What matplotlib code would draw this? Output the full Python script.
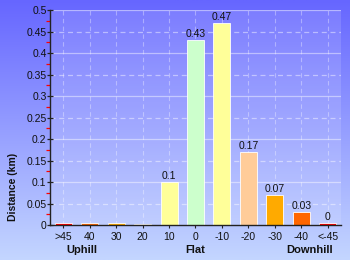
import matplotlib
matplotlib.use("Agg")
import matplotlib.pyplot as plt
import numpy as np
from matplotlib.colors import LinearSegmentedColormap

categories = [">45", "40", "30", "20", "10", "0", "-10", "-20", "-30", "-40", "<-45"]
values = [0.005, 0.005, 0.005, 0.003, 0.10, 0.43, 0.47, 0.17, 0.07, 0.03, 0.005]
value_labels = ["", "", "", "", "0.1", "0.43", "0.47", "0.17", "0.07", "0.03", "0"]
bar_colors = ["#ff0000", "#ff6600", "#ffaa00", "#ffcc99", "#ffff99", "#ccffcc",
              "#ffff99", "#ffcc99", "#ffaa00", "#ff6600", "#ff0000"]
y_ticks = [0, 0.05, 0.1, 0.15, 0.2, 0.25, 0.3, 0.35, 0.4, 0.45, 0.5]
y_tick_labels = ["0", "0.05", "0.1", "0.15", "0.2", "0.25", "0.3", "0.35", "0.4", "0.45", "0.5"]
groups = ["Uphill", "Flat", "Downhill"]
group_pos = [0.7, 5.0, 9.3]

plt.rcParams['font.family'] = ['Liberation Sans', 'DejaVu Sans']

fig = plt.figure(figsize=(3.5, 2.6), dpi=100)

# background gradient
bg = fig.add_axes([0, 0, 1, 1], zorder=-10)
cmap = LinearSegmentedColormap.from_list("bg", ["#6666ff", "#c4d6ff"])
grad = np.linspace(0, 1, 256).reshape(-1, 1)
bg.imshow(grad, aspect="auto", cmap=cmap, extent=[0, 1, 0, 1], origin="upper")
bg.set_axis_off()

W, H = 350, 260
left, right, top, bottom = 50, 341, 10, 225
ax = fig.add_axes([left / W, 1 - bottom / H, (right - left) / W, (bottom - top) / H])
ax.set_facecolor((1, 1, 1, 0.13))

x = np.arange(len(categories))
ax.set_xlim(-0.5, len(categories) - 0.5)
ax.set_ylim(0, 0.5)

# grid
for yv in y_ticks[1:]:
    major = abs(round(yv * 10) - yv * 10) < 1e-6
    ax.axhline(yv, color="white", alpha=0.45, lw=0.9,
               ls="-" if major else (0, (4, 3)), zorder=0.5)
for xv in x:
    ax.axvline(xv, color="white", alpha=0.35, lw=0.8, ls=(0, (4, 3)), zorder=0.5)

ax.bar(x, values, width=0.64, color=bar_colors, edgecolor="white", linewidth=0.6, zorder=2)

for xi, v, lab in zip(x, values, value_labels):
    if lab:
        ax.text(xi, v + 0.002, lab, ha="center", va="bottom", fontsize=7.5, color="#111111", zorder=3)

for s in ["top", "right"]:
    ax.spines[s].set_visible(False)
for s in ["left", "bottom"]:
    ax.spines[s].set_color("#222222")
    ax.spines[s].set_linewidth(1.0)

ax.set_yticks(y_ticks)
ax.set_yticklabels(y_tick_labels, fontsize=7.5, color="#111111")
ax.set_yticks(np.arange(0.025, 0.5, 0.05), minor=True)
ax.tick_params(axis="y", which="major", direction="inout", length=5, width=0.9, color="#222222", pad=0)
ax.tick_params(axis="y", which="minor", direction="out", length=3, width=0.9, color="red")
ax.set_xticks(x)
ax.set_xticklabels(categories, fontsize=7.5, color="#111111")
ax.tick_params(axis="x", which="major", direction="out", length=2, width=0.8, color="#222222", pad=3)

for g, gp in zip(groups, group_pos):
    ax.text(gp, -0.057, g, ha="center", va="center", fontsize=8, fontweight="bold",
            color="#111111", transform=ax.transData, clip_on=False)

fig.text(13 / W, 1 - 187 / H, "Distance (km)", rotation=90, ha="center", va="center",
         fontsize=7.5, fontweight="bold", color="#111111")

fig.savefig("out.png", dpi=100)
